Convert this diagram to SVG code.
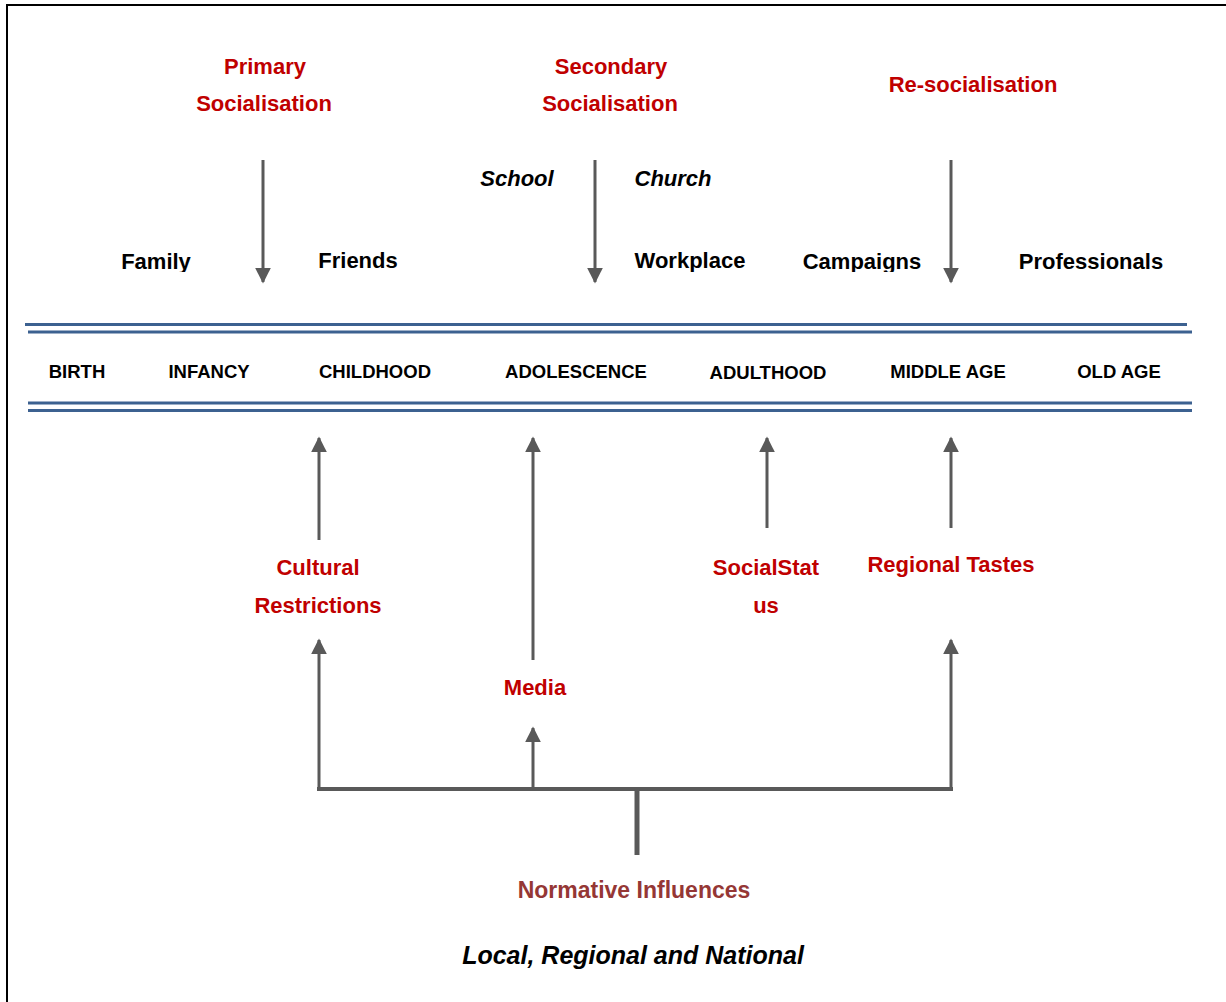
<svg xmlns="http://www.w3.org/2000/svg" width="1226" height="1002" viewBox="0 0 1226 1002">
<style>
text{font-family:"Liberation Sans",Arial,sans-serif;font-weight:bold;text-anchor:middle}
.red{fill:#C00000;font-size:22px}
.blk{fill:#000;font-size:22px}
.it{font-style:italic}
.stage{fill:#000;font-size:18.5px}
.norm{fill:#953735;font-size:23px}
.arr{stroke:#595959;stroke-width:3;fill:none}
.dbl{stroke:#3C6190;stroke-width:3}
</style>
<defs>
<marker id="ah" viewBox="0 0 10 10" refX="9" refY="5" markerWidth="5.3" markerHeight="5.3" orient="auto" markerUnits="strokeWidth">
<path d="M0,0 L10,5 L0,10 z" fill="#595959"/>
</marker>
<clipPath id="clipTop"><rect x="0" y="0" width="1226" height="272"/></clipPath>
</defs>
<rect x="7" y="5" width="1240" height="1020" fill="#fff" stroke="#000" stroke-width="2"/>

<g id="timeline">
<line class="dbl" x1="25" y1="324.5" x2="1187" y2="324.5"/>
<line class="dbl" x1="28" y1="332" x2="1192" y2="332"/>
<line class="dbl" x1="28" y1="403" x2="1192" y2="403"/>
<line class="dbl" x1="28" y1="410.5" x2="1192" y2="410.5"/>
</g>

<g id="connectors">
<line class="arr" x1="263" y1="160" x2="263" y2="282" marker-end="url(#ah)"/>
<line class="arr" x1="595" y1="160" x2="595" y2="282" marker-end="url(#ah)"/>
<line class="arr" x1="951" y1="160" x2="951" y2="282" marker-end="url(#ah)"/>
<line class="arr" x1="319" y1="540" x2="319" y2="438" marker-end="url(#ah)"/>
<line class="arr" x1="533" y1="660" x2="533" y2="438" marker-end="url(#ah)"/>
<line class="arr" x1="767" y1="528" x2="767" y2="438" marker-end="url(#ah)"/>
<line class="arr" x1="951" y1="528" x2="951" y2="438" marker-end="url(#ah)"/>
<line class="arr" x1="319" y1="789" x2="319" y2="640" marker-end="url(#ah)"/>
<line class="arr" x1="533" y1="789" x2="533" y2="728" marker-end="url(#ah)"/>
<line class="arr" x1="951" y1="789" x2="951" y2="640" marker-end="url(#ah)"/>
<line x1="317" y1="789" x2="953" y2="789" stroke="#595959" stroke-width="4"/>
<line x1="637" y1="789" x2="637" y2="855" stroke="#595959" stroke-width="5"/>
</g>

<g id="primary"><text class="red" x="265" y="74">Primary</text><text class="red" x="264" y="111">Socialisation</text></g>
<g id="secondary"><text class="red" x="611" y="74">Secondary</text><text class="red" x="610" y="111">Socialisation</text></g>
<g id="resocialisation"><text class="red" x="973" y="92">Re-socialisation</text></g>

<g id="school"><text class="blk it" x="517" y="186">School</text></g>
<g id="church"><text class="blk it" x="673" y="186">Church</text></g>
<g clip-path="url(#clipTop)">
<g id="family"><text class="blk" x="156" y="269">Family</text></g>
<g id="friends"><text class="blk" x="358" y="268">Friends</text></g>
<g id="workplace"><text class="blk" x="690" y="268">Workplace</text></g>
<g id="campaigns"><text class="blk" x="862" y="269">Campaigns</text></g>
<g id="professionals"><text class="blk" x="1091" y="269">Professionals</text></g>
</g>

<g id="birth"><text class="stage" x="77" y="378">BIRTH</text></g>
<g id="infancy"><text class="stage" x="209" y="378">INFANCY</text></g>
<g id="childhood"><text class="stage" x="375" y="378">CHILDHOOD</text></g>
<g id="adolescence"><text class="stage" x="576" y="378">ADOLESCENCE</text></g>
<g id="adulthood"><text class="stage" x="768" y="379">ADULTHOOD</text></g>
<g id="middleage"><text class="stage" x="948" y="378">MIDDLE AGE</text></g>
<g id="oldage"><text class="stage" x="1119" y="378">OLD AGE</text></g>

<g id="cultural"><text class="red" x="318" y="575">Cultural</text><text class="red" x="318" y="613">Restrictions</text></g>
<g id="media"><text class="red" x="535" y="695">Media</text></g>
<g id="socialstatus"><text class="red" x="766" y="575">SocialStat</text><text class="red" x="766" y="613">us</text></g>
<g id="regional"><text class="red" x="951" y="572">Regional Tastes</text></g>
<g id="normative"><text class="norm" x="634" y="898">Normative Influences</text></g>
<g id="local"><text class="it" x="633" y="964" style="font-size:25px;fill:#000">Local, Regional and National</text></g>
</svg>
